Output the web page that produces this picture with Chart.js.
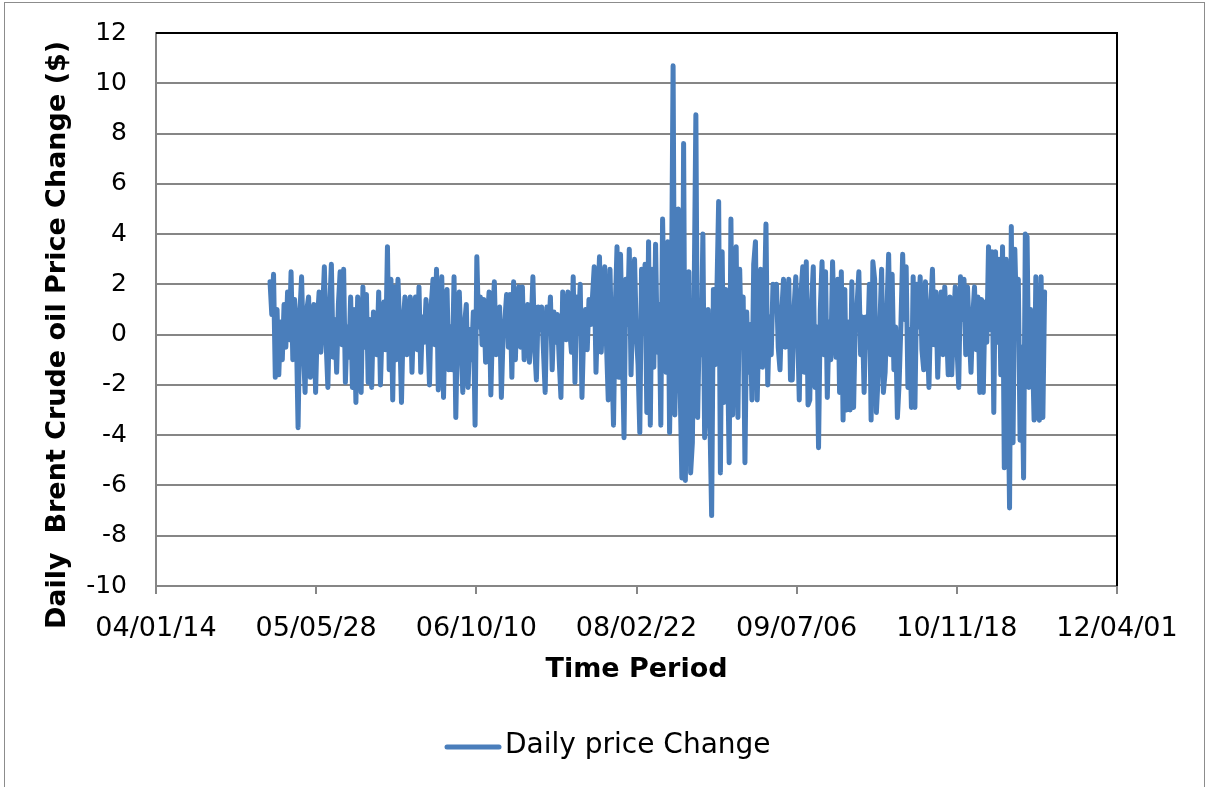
<!DOCTYPE html>
<html><head><meta charset="utf-8">
<script src="https://cdn.jsdelivr.net/npm/chart.js@4"></script>
<style>html,body{margin:0;padding:0;background:#fff;}</style>
</head><body>
<canvas id="c" width="1207" height="787"></canvas>
<script>
const seriesName = 'Daily price Change';
const xAxisTitle = 'Time Period';
const yAxisTitle = 'Daily  Brent Crude oil Price Change ($)';
const xTickLabels = ['04/01/14','05/05/28','06/10/10','08/02/22','09/07/06','10/11/18','12/04/01'];
const xAxisStart = '2004-01-14';
const xTickStepDays = 500;
const yMin = -10, yMax = 12, yStep = 2;
const firstObsDate = '2005-01-04';
const lastObsDate = '2011-08-19';

const change2005 = [2.1,0.8,2.4,-1.7,1.0,-1.6,0.5,-1.0,1.2,-0.5,1.7,-0.2,2.5,-1.0,1.4,0.2,-3.7,0.8,2.3,-0.5,
-2.3,1.0,1.5,-1.7,0.3,1.2,-2.3,0.5,1.7,-0.7,0.9,2.7,-0.3,-2.1,1.0,2.8,-0.9,0.6,-1.5,1.2,
2.5,-0.4,2.6,-1.9,0.3,-0.9,1.5,-2.1,1.0,-2.7,1.5,0.2,-2.3,1.9,-0.5,1.6,-1.9,0.6,-2.1,0.9,
0.3,-0.8,1.7,-2.0,0.4,1.3,-0.6,3.5,-1.4,2.2,-2.6];
const change2006 = [1.9,-1.0,2.2,0.2,-2.7,0.5,1.5,-0.8,0.4,1.5,-1.5,0.9,1.5,-0.6,1.9,-1.5,0.7,-0.3,1.4,0.1,
-2.0,1.2,2.2,-0.4,2.6,-2.2,0.8,2.3,-2.5,1.0,1.8,-1.4,0.3,-1.4,2.3,-3.3,0.6,1.7,-0.5,-2.3,
0.4,1.2,-2.1,0.2,-1.0,0.9,-3.6,3.1,0.3,1.5,-0.4,1.4,-1.1,0.6,1.7,-2.4,0.5,2.1,-0.8,0.8,
1.1,-2.5,0.0,0.6,1.6,-0.5,1.6,-1.7,2.1,-1.0,1.3,1.9,-0.5];
const change2007 = [1.9,-1.0,0.6,1.2,-1.1,0.3,2.3,-0.5,-1.8,1.1,0.2,1.1,-0.6,-2.3,1.1,0.1,1.5,-1.4,0.9,-0.3,
0.8,-1.0,-2.5,1.7,0.5,-0.2,1.7,0.2,-0.7,2.3,-1.9,1.5,0.3,2.0,-2.5,0.2,1.0,-0.6,1.4,0.4,
1.5,2.7,-1.5,1.0,3.1,-0.7,1.2,2.7,-0.4,-2.6,2.6,-0.8,-3.6,1.0,3.5,-1.7,3.2,-0.5,-4.1,2.2,
0.4,3.4,-1.6,1.0,3.0,0.1,-1.2,-3.9,2.6,0.6,2.8,-3.1,3.7,-3.6,2.6,-1.3];
const change2008 = [3.6,-0.7,1.2,-3.6,4.6,0.5,-1.5,3.7,-3.9,1.0,10.7,-3.2,0.8,5.0,-2.0,-5.7,7.6,-5.8,0.3,2.5,
-5.5,-4.3,1.5,8.75,-3.3,0.5,-0.8,4.0,-4.1,-2.4,1.0,-3.3,-7.2,1.8,-1.2,1.7,5.3,-5.5,3.3,-2.7,
1.8,-0.5,-5.1,4.6,-3.2,0.8,3.5,-3.3,2.6,-0.5,1.5,-5.1,0.9,-1.5,0.4,-2.6,2.8,3.7,-2.6,0.5,
2.6,-1.3,0.8,4.4,-2.0,0.7,-0.8,2.0,1.2,2.0,-0.5,-1.4,0.9,2.2,-0.5];
const change2009 = [0.8,2.2,-1.8,-1.8,1.0,2.3,0.4,-2.6,1.7,2.7,-1.5,2.9,-2.8,-2.6,1.2,2.7,-2.1,0.3,-4.5,
1.0,2.9,-0.8,2.5,-2.5,0.5,-1.0,2.9,0.2,-0.9,2.2,-2.3,2.5,-3.4,1.8,-3.0,0.5,-3.0,2.1,-2.9,0.6,
1.2,2.5,-0.8,0.7,-2.3,0.7,-0.5,2.0,-3.4,2.9,2.2,-3.1,-1.7,0.4,2.6,-2.3,-1.5,0.9,3.2,-0.8,
2.4,-1.4,0.3,-3.3,-1.9,0.4,3.2,0.6,2.7,-2.1,0.2,-2.9,2.3];
const change2010 = [-2.9,2.0,0.3,2.3,-0.6,-1.4,2.1,0.2,-2.1,1.0,2.6,-0.4,1.7,-1.7,0.5,1.7,-0.8,1.9,0.3,-1.6,
1.5,-1.6,0.4,1.9,-0.5,-2.1,2.3,0.6,2.2,-0.8,1.9,0.1,-1.5,0.7,1.9,-0.6,1.5,-2.3,1.4,-2.3,
1.3,-0.3,3.5,0.2,3.3,-3.1,3.3,-0.3,3.0,-1.6,3.5,-5.3,3.0,-1.0,-6.9,4.3,-4.3,3.4,0.6,2.2,
-4.2,-0.5,-5.7,4.0,3.9,-2.1,1.0,-0.4,-3.4,2.3,-3.2,-3.4,2.3,-3.3,1.7];

const dailyChange = [].concat(change2005, change2006, change2007, change2008, change2009, change2010);

const DAY = 86400000;
const dayOf = d => (Date.parse(d) - Date.parse(xAxisStart)) / DAY;
const firstDay = dayOf(firstObsDate), lastDay = dayOf(lastObsDate);
const stepDays = (lastDay - firstDay) / (dailyChange.length - 1);
const points = dailyChange.map((v, i) => ({ x: firstDay + i * stepDays, y: v }));

const FONT = '"DejaVu Sans", sans-serif';
const GRID = '#868686';
const LINE = '#4a7ebb';

const framePlugin = {
  id: 'framePlugin',
  beforeDraw(chart) {
    const ctx = chart.ctx;
    ctx.save();
    ctx.fillStyle = '#fff';
    ctx.fillRect(0, 0, chart.width, chart.height);
    ctx.restore();
  },
  afterDraw(chart) {
    const { ctx, chartArea: a } = chart;
    ctx.save();
    // plot area frame (top and right, black)
    ctx.strokeStyle = '#000';
    ctx.lineWidth = 2;
    ctx.beginPath();
    ctx.moveTo(a.left, a.top);
    ctx.lineTo(a.right, a.top);
    ctx.lineTo(a.right, a.bottom);
    ctx.stroke();
    // axis titles
    ctx.fillStyle = '#000';
    ctx.font = 'bold 27px ' + FONT;
    ctx.textAlign = 'center';
    ctx.textBaseline = 'middle';
    ctx.fillText(xAxisTitle, (a.left + a.right) / 2, 670);
    ctx.save();
    ctx.translate(58, 335);
    ctx.rotate(-Math.PI / 2);
    ctx.fillText(yAxisTitle, 0, 0);
    ctx.restore();
    // legend (line sample + label) from the dataset
    const ds = chart.data.datasets[0];
    ctx.strokeStyle = ds.borderColor;
    ctx.lineWidth = 5;
    ctx.lineCap = 'round';
    ctx.beginPath();
    ctx.moveTo(447, 747);
    ctx.lineTo(499, 747);
    ctx.stroke();
    ctx.font = '28px ' + FONT;
    ctx.textAlign = 'left';
    ctx.fillText(ds.label, 505, 746);
    // outer chart border
    ctx.strokeStyle = '#8c8c8c';
    ctx.lineWidth = 1;
    ctx.strokeRect(4.5, 2.5, 1200, 800);
    ctx.restore();
  }
};

new Chart(document.getElementById('c'), {
  type: 'line',
  data: {
    datasets: [{
      label: seriesName,
      data: points,
      borderColor: LINE,
      backgroundColor: LINE,
      borderWidth: 5,
      pointRadius: 0,
      tension: 0,
      borderJoinStyle: 'round',
      borderCapStyle: 'round',
      fill: false
    }]
  },
  options: {
    responsive: false,
    animation: false,
    devicePixelRatio: 1,
    layout: { padding: { top: 33, right: 90, bottom: 63, left: 0 } },
    plugins: {
      tooltip: { enabled: false },
      legend: { display: false }
    },
    scales: {
      x: {
        type: 'linear',
        min: 0,
        max: xTickStepDays * (xTickLabels.length - 1),
        afterFit: s => { s.height = 138; },
        ticks: {
          stepSize: xTickStepDays,
          autoSkip: false,
          maxRotation: 0,
          padding: 19,
          color: '#000',
          font: { family: FONT, size: 27 },
          callback: v => xTickLabels[Math.round(v / xTickStepDays)]
        },
        grid: { drawOnChartArea: false, drawTicks: true, tickLength: 8, color: GRID, lineWidth: 2 },
        border: { display: true, color: GRID, width: 2 }
      },
      y: {
        min: yMin,
        max: yMax,
        afterFit: s => { s.width = 156; },
        ticks: {
          stepSize: yStep,
          padding: 0,
          color: '#000',
          font: { family: FONT, size: 25 }
        },
        grid: { drawTicks: true, tickLength: 29, tickColor: 'rgba(0,0,0,0)', color: GRID, lineWidth: 2 },
        border: { display: true, color: GRID, width: 2 }
      }
    }
  },
  plugins: [framePlugin]
});
</script>
</body></html>
